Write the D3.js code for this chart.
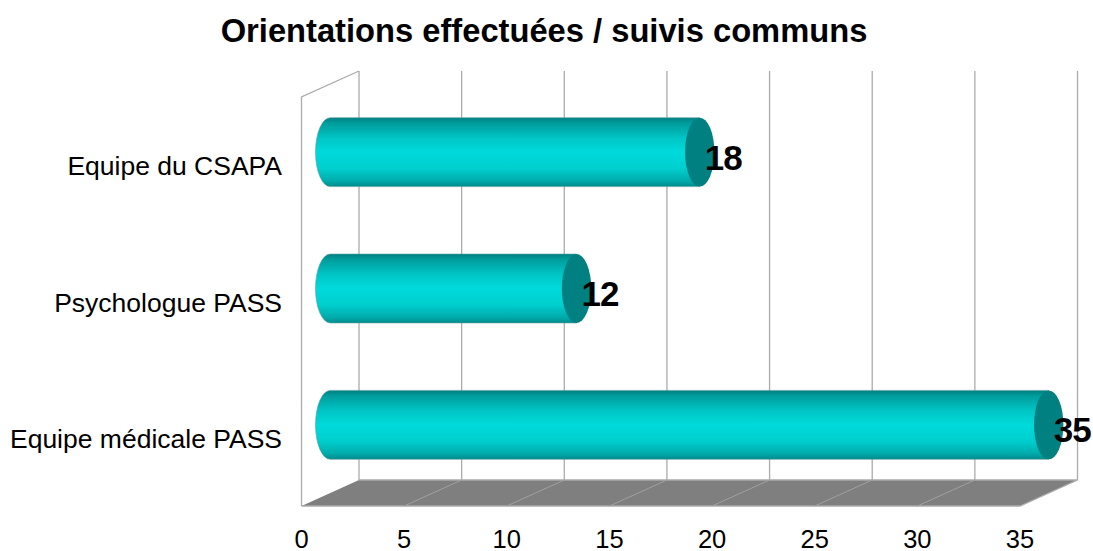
<!DOCTYPE html>
<html><head><meta charset="utf-8">
<script src="https://cdn.jsdelivr.net/npm/d3@7"></script>
<style>html,body{margin:0;padding:0;background:#fff}svg{display:block}text{font-family:"Liberation Sans",Arial,sans-serif;fill:#000}</style>
</head><body><svg id="c" width="1093" height="551"></svg>
<script>
const title = "Orientations effectuées / suivis communs";
const categories = ["Equipe du CSAPA","Psychologue PASS","Equipe médicale PASS"];
const values = [18,12,35];
const xTicks = [0,5,10,15,20,25,30,35];

const svg = d3.select("#c");
const plotTop = 97, plotBottom = 506;
const x = d3.scaleLinear().domain([0,35]).range([301.5,1020]);
const y = d3.scaleBand().domain(categories).range([plotTop,plotBottom]).paddingInner(0.4945).paddingOuter(0.24725);
const dx = 57.5, dy = -26;           // 3D depth of the box
const barDx = 28.7, barDy = -13;     // bar axis sits mid-depth
const rx = 14.7;

const defs = svg.append("defs");
const g = defs.append("linearGradient").attr("id","cyl").attr("x1",0).attr("x2",0).attr("y1",0).attr("y2",1);
[[0,"#007f7f"],[0.08,"#009c9c"],[0.3,"#00c6c6"],[0.5,"#00dada"],[0.74,"#00cece"],[0.92,"#00aaaa"],[1,"#008a8a"]]
  .forEach(([o,c])=>g.append("stop").attr("offset",o).attr("stop-color",c));

// walls and floor
svg.append("path").attr("fill","#7f7f7f")
  .attr("d",`M${x(0)},${plotBottom}L${x(0)+dx},${plotBottom+dy}H${x(35)+dx}L${x(35)},${plotBottom}Z`);
const gridColor = "#ababab";
svg.append("path").attr("fill","none").attr("stroke",gridColor).attr("stroke-width",1.3)
  .attr("d",`M${x(0)},${plotBottom}V${plotTop}L${x(0)+dx},${plotTop+dy}`);
svg.append("path").attr("fill","none").attr("stroke",gridColor).attr("stroke-width",1.3)
  .attr("d",`M${x(0)},${plotBottom}H${x(35)}L${x(35)+dx},${plotBottom+dy}H${x(0)+dx}`);
svg.selectAll(".grid").data(xTicks).join("line").attr("class","grid")
  .attr("x1",d=>x(d)+dx).attr("x2",d=>x(d)+dx).attr("y1",plotTop+dy).attr("y2",plotBottom+dy)
  .attr("stroke",gridColor).attr("stroke-width",1.3);
svg.selectAll(".floor").data(xTicks.slice(1,-1)).join("line").attr("class","floor")
  .attr("x1",d=>x(d)).attr("x2",d=>x(d)+dx).attr("y1",plotBottom).attr("y2",plotBottom+dy)
  .attr("stroke","#a0a0a0").attr("stroke-width",1);

// cylinders
const bars = svg.selectAll(".bar").data(categories.map((c,i)=>({c,v:values[i]}))).join("g").attr("class","bar");
const ry = y.bandwidth()/2;
bars.append("path").attr("fill","url(#cyl)").attr("stroke","#5f9f9f").attr("stroke-width",0.6)
  .attr("d",d=>{
    const t=y(d.c)+barDy, b=t+2*ry, x0=x(0)+barDx, x1=x(d.v)+barDx;
    return `M${x0},${t}H${x1}V${b}H${x0}A${rx},${ry} 0 0 1 ${x0},${t}Z`;
  });
bars.append("ellipse").attr("fill","#008080")
  .attr("cx",d=>x(d.v)+barDx).attr("cy",d=>y(d.c)+barDy+ry).attr("rx",rx).attr("ry",ry);

// value labels
bars.append("text").text(d=>d.v).attr("text-anchor","middle")
  .attr("x",d=>x(d.v)+barDx+23.5).attr("y",d=>y(d.c)+barDy+ry+17.5)
  .attr("font-size",35).attr("font-weight","bold").attr("letter-spacing",-1);

// axis labels
svg.selectAll(".xl").data(xTicks).join("text").attr("class","xl").text(d=>d)
  .attr("text-anchor","middle").attr("x",d=>x(d)).attr("y",548).attr("font-size",25.5);
svg.selectAll(".yl").data(categories).join("text").attr("class","yl").text(d=>d)
  .attr("text-anchor","end").attr("x",282).attr("y",d=>y(d)+barDy+ry+23).attr("font-size",26.5);

svg.append("text").text(title).attr("text-anchor","middle").attr("x",544).attr("y",42)
  .attr("font-size",32.7).attr("font-weight","bold");
</script></body></html>
